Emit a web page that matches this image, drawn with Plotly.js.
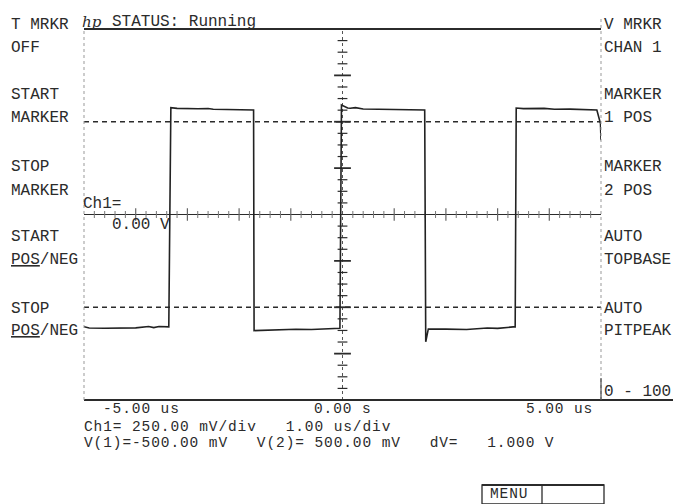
<!DOCTYPE html>
<html>
<head>
<meta charset="utf-8">
<script src="https://cdn.plot.ly/plotly-3.0.1.min.js"></script>
<style>
html,body{margin:0;padding:0;background:#fff;}
#chart{width:673px;height:504px;}
</style>
</head>
<body>
<div id="chart"></div>
<script>
// ---- data ----
var timeUs = [-5.00,-4.90,-4.60,-4.30,-4.00,-3.75,-3.65,-3.55,-3.45,-3.36,
  -3.32,-3.20,-2.80,-2.60,-2.50,-2.10,-1.90,-1.72,
  -1.71,-1.50,-1.20,-0.90,-0.60,-0.30,-0.05,
  -0.02,0.05,0.10,0.15,0.25,0.40,0.80,1.20,1.59,
  1.61,1.66,2.00,2.40,2.80,3.00,3.30,3.34,
  3.36,3.50,3.90,4.10,4.40,4.70,4.92,4.99,5.00];
var ch1Volts = [-0.605,-0.612,-0.613,-0.611,-0.611,-0.604,-0.610,-0.604,-0.606,-0.606,
  0.576,0.572,0.570,0.571,0.567,0.566,0.565,0.563,
  -0.626,-0.624,-0.620,-0.619,-0.620,-0.615,-0.613,
  0.590,0.582,0.574,0.573,0.576,0.569,0.566,0.563,0.563,
  -0.686,-0.617,-0.618,-0.620,-0.612,-0.614,-0.606,-0.606,
  0.574,0.571,0.572,0.567,0.568,0.565,0.563,0.490,0.400];
var markerVolts = [-0.500, 0.500];          // V(1), V(2)
var xTickLabels = ["-5.00 us", "0.00 s", "5.00 us"];
var leftMenu = ["T MRKR","OFF","START","MARKER","STOP","MARKER","START","<u>POS</u>/NEG","STOP","<u>POS</u>/NEG"];
var rightMenu = ["V MRKR","CHAN 1","MARKER","1 POS","MARKER","2 POS","AUTO","TOPBASE","AUTO","PITPEAK"];
var statusText = "STATUS: Running";
var scaleLine = "Ch1= 250.00 mV/div   1.00 us/div";
var markerLine = "V(1)=-500.00 mV   V(2)= 500.00 mV   dV=   1.000 V";
var rangeText = "0 - 100";
var menuLabel = "MENU";

// ---- layout helpers ----
var W = 673, H = 504, L = 84, R = 72, T = 29, B = 104;
var PW = W - L - R, PH = H - T - B;
function px(x){ return (x - L) / PW; }
function py(y){ return (H - B - y) / PH; }
var ink = '#2b2b2b';
var FAM = 'Liberation Mono, DejaVu Sans Mono, monospace';
var FONT = {family: FAM, size: 16, color: ink};
var SMALL = {family: FAM, size: 14.5, color: ink};
function spaced(t){ return '<span style="letter-spacing:0.9px">' + t + '</span>'; }

function ann(text, x, y, anchor, extra){
  var a = {text: text, x: px(x), y: py(y + 3), xref: 'paper', yref: 'paper',
    xanchor: anchor || 'left', yanchor: 'middle', showarrow: false, font: FONT, borderpad: 0};
  if (extra) for (var k in extra) a[k] = extra[k];
  return a;
}

var annotations = [];
var menuY = [22, 45, 92, 115, 164, 188, 234, 257, 306, 328];
leftMenu.forEach(function(t, i){ annotations.push(ann(t, 10, menuY[i])); });
rightMenu.forEach(function(t, i){ annotations.push(ann(t, 603, menuY[i])); });
annotations.push(ann(rangeText, 603, 389));
annotations.push(ann('<i>hp</i>', 81, 19, 'left', {font:{family:'DejaVu Serif, serif', size:15, color:ink}}));
annotations.push(ann(statusText, 111, 19));
annotations.push(ann('Ch1=', 82, 201));
annotations.push(ann('0.00 V', 111, 222));
// x tick texts in data coordinates
annotations.push({text: spaced(xTickLabels[0]), x: -5, y: py(409), xref:'x', yref:'paper', xanchor:'left', yanchor:'middle', xshift: 18, showarrow:false, font: SMALL, borderpad:0});
annotations.push({text: spaced(xTickLabels[1]), x: 0, y: py(409), xref:'x', yref:'paper', xanchor:'center', yanchor:'middle', showarrow:false, font: SMALL, borderpad:0});
annotations.push({text: spaced(xTickLabels[2]), x: 5, y: py(409), xref:'x', yref:'paper', xanchor:'right', yanchor:'middle', xshift: -7, showarrow:false, font: SMALL, borderpad:0});
annotations.push(ann(spaced(scaleLine), 83, 424, 'left', {font: SMALL}));
annotations.push(ann(spaced(markerLine), 83, 440, 'left', {font: SMALL}));
annotations.push(ann(spaced(menuLabel), 489, 491, 'left', {font: SMALL}));

// ---- crosshair tick marks (graticule) ----
var vMinorY = [], vMajorY = [], hMinorX = [], hMajorX = [];
for (var i = -16; i <= 16; i++){ var yy = i * 0.0625; if (i % 4 === 0) { if (i !== 0) vMajorY.push(yy); } else vMinorY.push(yy); }
for (var j = -25; j <= 25; j++){ var xx = j * 0.2; if (j % 5 === 0) { if (j !== 0 && Math.abs(j) !== 25) hMajorX.push(xx); } else hMinorX.push(xx); }

var traces = [
  {x:[0,0], y:[-1,1], mode:'lines', line:{color:'#555', width:1, dash:'dot'}, hoverinfo:'skip'},
  {x: vMinorY.map(function(){return 0;}), y: vMinorY, mode:'markers', marker:{symbol:'line-ew', size:7, line:{width:1.2, color:ink}}, hoverinfo:'skip'},
  {x: vMajorY.map(function(){return 0;}), y: vMajorY, mode:'markers', marker:{symbol:'line-ew', size:12, line:{width:1.8, color:ink}}, hoverinfo:'skip'},
  {x: hMinorX, y: hMinorX.map(function(){return 0;}), mode:'markers', marker:{symbol:'line-ns', size:5, line:{width:1, color:'#777'}}, hoverinfo:'skip'},
  {x: hMajorX, y: hMajorX.map(function(){return 0;}), mode:'markers', marker:{symbol:'line-ns', size:9, line:{width:1.2, color:'#666'}}, hoverinfo:'skip'},
  {x:[-5,5], y:[markerVolts[0], markerVolts[0]], mode:'lines', line:{color:ink, width:1.6, dash:'5px,4px'}, hoverinfo:'skip'},
  {x:[-5,5], y:[markerVolts[1], markerVolts[1]], mode:'lines', line:{color:ink, width:1.6, dash:'5px,4px'}, hoverinfo:'skip'},
  {x: timeUs, y: ch1Volts, mode:'lines', line:{color:'#222', width:1.6}, hoverinfo:'skip'}
];

var shapes = [
  {type:'line', xref:'paper', yref:'paper', x0:0, x1:1, y0:1, y1:1, line:{color:ink, width:2}},
  {type:'line', xref:'paper', yref:'paper', x0:0, x1:px(673), y0:0, y1:0, line:{color:ink, width:2}},
  {type:'line', xref:'paper', yref:'paper', x0:0, x1:0, y0:0, y1:1, line:{color:'#999', width:1, dash:'dot'}},
  {type:'line', xref:'paper', yref:'paper', x0:1, x1:1, y0:0, y1:py(16), line:{color:'#999', width:1, dash:'dot'}},
  {type:'line', xref:'paper', yref:'paper', x0:1, x1:1, y0:0, y1:py(378), line:{color:ink, width:1}},
  // MENU box
  {type:'rect', xref:'paper', yref:'paper', x0:px(482), x1:px(604), y0:py(504), y1:py(485), line:{color:ink, width:1.3}},
  {type:'line', xref:'paper', yref:'paper', x0:px(482), x1:px(604), y0:py(485), y1:py(485), line:{color:ink, width:2}},
  {type:'line', xref:'paper', yref:'paper', x0:px(542), x1:px(542), y0:py(504), y1:py(485), line:{color:ink, width:1.3}}
];

var layout = {
  width: W, height: H,
  margin: {l:L, r:R, t:T, b:B, pad:0},
  paper_bgcolor:'#fff', plot_bgcolor:'#fff',
  showlegend: false,
  xaxis: {range:[-5,5], showgrid:false, zeroline:false, showticklabels:false, ticks:'', showline:false, fixedrange:true},
  yaxis: {range:[-1,1], showgrid:false, zeroline:true, zerolinecolor:ink, zerolinewidth:1.6, showticklabels:false, ticks:'', showline:false, fixedrange:true},
  annotations: annotations,
  shapes: shapes
};

Plotly.newPlot('chart', traces, layout, {displayModeBar:false, staticPlot:true});
</script>
</body>
</html>
